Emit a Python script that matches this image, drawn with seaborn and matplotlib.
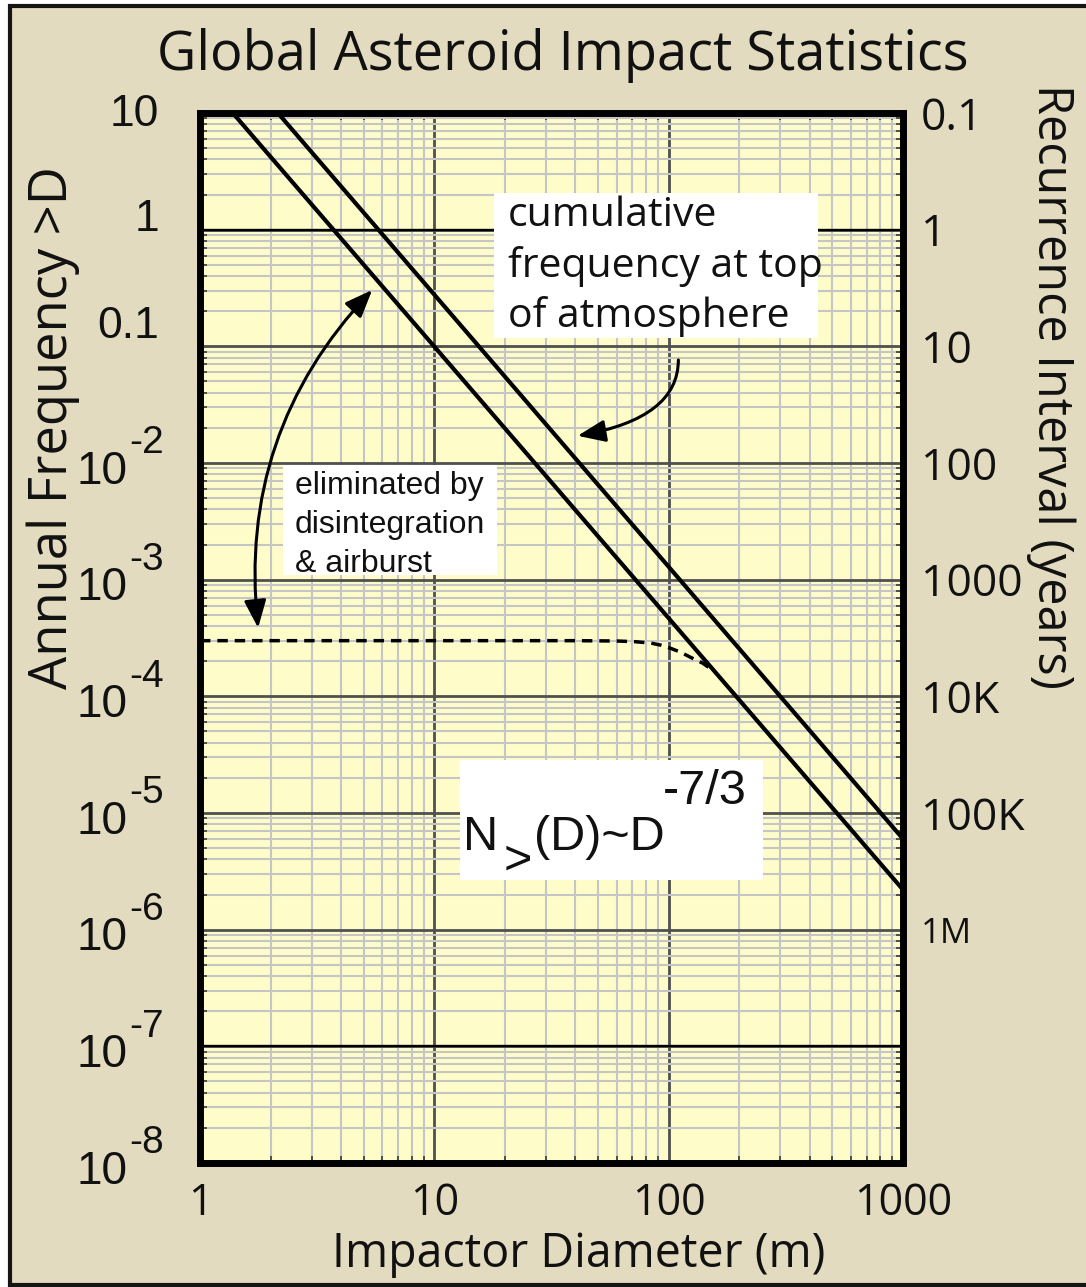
import numpy as np
import pandas as pd
import matplotlib
matplotlib.use("Agg")
import matplotlib.pyplot as plt
from matplotlib.ticker import LogLocator, FixedLocator, NullLocator, NullFormatter
from matplotlib.patches import Rectangle, FancyArrowPatch
from matplotlib.transforms import offset_copy
import seaborn as sns

# Cumulative annual impact frequency N(>D) versus impactor diameter D (m)
top_atm_diam = [2.15, 1000.0]
top_atm_freq = [10.0, 6.0e-6]
ground_diam = [1.38, 1000.0]
ground_freq = [10.0, 2.2e-6]

# Ground-impact floor left after disintegration and airburst
floor_diam = [1.0, 40.0, 60.0, 72.0, 84.0, 93.0, 102.0, 113.0, 124.0, 140.0, 155.0]
floor_freq = [3.0e-4, 3.0e-4, 2.98e-4, 2.94e-4, 2.86e-4, 2.74e-4, 2.58e-4,
              2.38e-4, 2.16e-4, 1.92e-4, 1.66e-4]

# Axis ticks and labels
diam_ticks = [1, 10, 100, 1000]
diam_labels = ["1", "10", "100", "1000"]
freq_ticks = [10, 1, 0.1]
freq_labels = ["10", "1", "0.1"]
freq_exp_ticks = [1e-2, 1e-3, 1e-4, 1e-5, 1e-6, 1e-7, 1e-8]
freq_exp_labels = ["-2", "-3", "-4", "-5", "-6", "-7", "-8"]
recurrence_years = [0.1, 1, 10, 100, 1000, 1e4, 1e5, 1e6]
recurrence_labels = ["0.1", "1", "10", "100", "1000", "10K", "100K", "1M"]
dark_rules = [1, 1e-7]

TAN = "#e3dbbf"
PAPER = "#fefdca"
INK = "#111111"
W, H = 1086, 1287

sns.set_theme(style="ticks")
plt.rcParams["font.family"] = ["Open Sans", "DejaVu Sans"]

fig = plt.figure(figsize=(W / 100, H / 100), dpi=100)
fig.patch.set_facecolor("white")
fig.add_artist(Rectangle((10 / W, 2 / H), 1.05, 1 - 8 / H, transform=fig.transFigure,
                         facecolor=TAN, edgecolor="#151515", lw=3.0, zorder=-10))


def ax_frac(px, py):
    return (px - 200) / 703, (1163 - py) / 1050


ax = fig.add_axes([200 / W, 1 - 1163 / H, 703 / W, 1050 / H])
ax.set_facecolor(PAPER)
ax.set_xscale("log")
ax.set_yscale("log")

curves = pd.concat([
    pd.DataFrame({"diameter": top_atm_diam, "freq": top_atm_freq, "curve": "top of atmosphere"}),
    pd.DataFrame({"diameter": ground_diam, "freq": ground_freq, "curve": "ground"}),
])
sns.lineplot(data=curves, x="diameter", y="freq", units="curve", estimator=None,
             sort=False, color="black", lw=3.0, ax=ax, legend=False, zorder=2.5)
sns.lineplot(x=floor_diam, y=floor_freq, estimator=None, sort=False, color="black",
             lw=2.5, ax=ax, legend=False, zorder=2.5)
ax.lines[-1].set_linestyle((0, (3.0, 2.0)))

ax.set_xlim(1, 1000)
ax.set_ylim(1e-8, 10)

ax.xaxis.set_major_locator(FixedLocator(diam_ticks))
ax.xaxis.set_minor_locator(LogLocator(base=10, subs=np.arange(2, 10), numticks=50))
ax.yaxis.set_major_locator(FixedLocator(freq_ticks + freq_exp_ticks))
ax.yaxis.set_minor_locator(LogLocator(base=10, subs=np.arange(2, 10), numticks=50))
ax.xaxis.set_minor_formatter(NullFormatter())
ax.yaxis.set_minor_formatter(NullFormatter())
ax.set_xticklabels(diam_labels)
ax.set_yticklabels([])

ax.grid(True, which="minor", color="#c5c5c5", lw=1.5)
ax.grid(True, which="major", color="#505050", lw=2.0)
for v in dark_rules:
    ax.axhline(v, color="black", lw=1.7, zorder=1.6)

for side in ["left", "right", "top", "bottom"]:
    ax.spines[side].set_visible(True)
    ax.spines[side].set_color("black")
    ax.spines[side].set_linewidth(5)
    ax.spines[side].set_zorder(6)

ax.set_xlabel("")
ax.set_ylabel("")

# Right-hand recurrence interval scale
ax2 = ax.twinx()
ax2.set_yscale("log")
ax2.set_ylim(ax.get_ylim())
ax2.yaxis.set_major_locator(FixedLocator([1 / r for r in recurrence_years]))
ax2.yaxis.set_minor_locator(NullLocator())
ax2.set_yticklabels(recurrence_labels)
for side in ["left", "right", "top", "bottom"]:
    ax2.spines[side].set_visible(False)
ax2.tick_params(axis="y", which="major", length=0, pad=13, labelsize=32, labelcolor=INK)
for lbl in ax2.get_yticklabels():
    if lbl.get_text() == "1M":
        lbl.set_fontsize(25)

ax.tick_params(which="major", length=0)
ax.tick_params(axis="x", which="major", pad=13, labelsize=31, labelcolor=INK)
ax.tick_params(which="minor", direction="in", length=5, width=1.3, color="#444444",
               top=True, bottom=True, left=True, right=True)

# Left frequency labels (baseline offsets in points)
plain_baseline = {"10": 9, "1": 1, "0.1": -6}
for f, lab in zip(freq_ticks, freq_labels):
    tr = offset_copy(ax.get_yaxis_transform(), fig=fig, x=0, y=-plain_baseline[lab], units="points")
    ax.text(ax_frac(159, 0)[0], f, lab, transform=tr, ha="right", va="baseline",
            fontsize=32, family="Liberation Sans", color=INK)
for f, ex in zip(freq_exp_ticks, freq_exp_labels):
    tr_base = offset_copy(ax.get_yaxis_transform(), fig=fig, x=0, y=-15, units="points")
    tr_exp = offset_copy(ax.get_yaxis_transform(), fig=fig, x=0, y=7, units="points")
    ax.text(ax_frac(128, 0)[0], f, "10", transform=tr_base, ha="right", va="baseline",
            fontsize=33, family="Liberation Sans", color=INK)
    ax.text(ax_frac(129, 0)[0], f, ex, transform=tr_exp, ha="left", va="baseline",
            fontsize=28, family="Liberation Sans", color=INK)

# Titles
fig.text(563 / W, 1 - 70 / H, "Global Asteroid Impact Statistics", ha="center",
         va="baseline", fontsize=39, color=INK)
fig.text(579 / W, 1 - 1267 / H, "Impactor Diameter (m)", ha="center", va="baseline",
         fontsize=33.5, color=INK)
fig.text(67 / W, 1 - 428 / H, "Annual Frequency >D", rotation=90, rotation_mode="anchor",
         ha="center", va="baseline", fontsize=37.8, color=INK)
fig.text(1038 / W, 1 - 386 / H, "Recurrence Interval (years)", rotation=-90,
         rotation_mode="anchor", ha="center", va="baseline", fontsize=35, color=INK)


# Annotation boxes
def white_box(x0, y0, x1, y1):
    ax0, ay1 = ax_frac(x0, y0)
    ax1, ay0 = ax_frac(x1, y1)
    ax.add_patch(Rectangle((ax0, ay0), ax1 - ax0, ay1 - ay0, transform=ax.transAxes,
                           facecolor="white", edgecolor="none", zorder=3))


white_box(494, 193, 818, 338)
ax.text(*ax_frac(508, 327), "cumulative\nfrequency at top\nof atmosphere", transform=ax.transAxes,
        ha="left", va="baseline", fontsize=29.5, linespacing=1.3, color=INK, zorder=4)

white_box(283, 465, 497, 575)
ax.text(*ax_frac(295, 572), "eliminated by\ndisintegration\n& airburst", transform=ax.transAxes,
        ha="left", va="baseline", fontsize=23, linespacing=1.4, family="Liberation Sans",
        color=INK, zorder=4)

white_box(460, 760, 763, 880)
for s, px, py in [("N", 463, 850), (">", 504, 874), ("(D)~D", 534, 850), ("-7/3", 663, 804)]:
    ax.text(*ax_frac(px, py), s, transform=ax.transAxes, ha="left", va="baseline",
            fontsize=35, family="Liberation Sans", color=INK, zorder=4)

# Arrows
double_arrow = FancyArrowPatch((5.43, 0.304), (1.77, 3.86e-4), transform=ax.transData,
                               arrowstyle="<|-|>,head_length=1.05,head_width=0.42",
                               mutation_scale=16, connectionstyle="arc3,rad=0.23",
                               color="black", lw=2.2, shrinkA=0, shrinkB=0, zorder=5)
ax.add_patch(double_arrow)
cum_arrow = FancyArrowPatch((110, 0.0764), (40.9, 0.0171), transform=ax.transData,
                            arrowstyle="-|>,head_length=1.05,head_width=0.42",
                            mutation_scale=16, connectionstyle="angle3,angleA=90,angleB=10",
                            color="black", lw=2.2, shrinkA=0, shrinkB=0, zorder=5)
ax.add_patch(cum_arrow)

fig.savefig("out.png", dpi=100, facecolor=fig.get_facecolor())
